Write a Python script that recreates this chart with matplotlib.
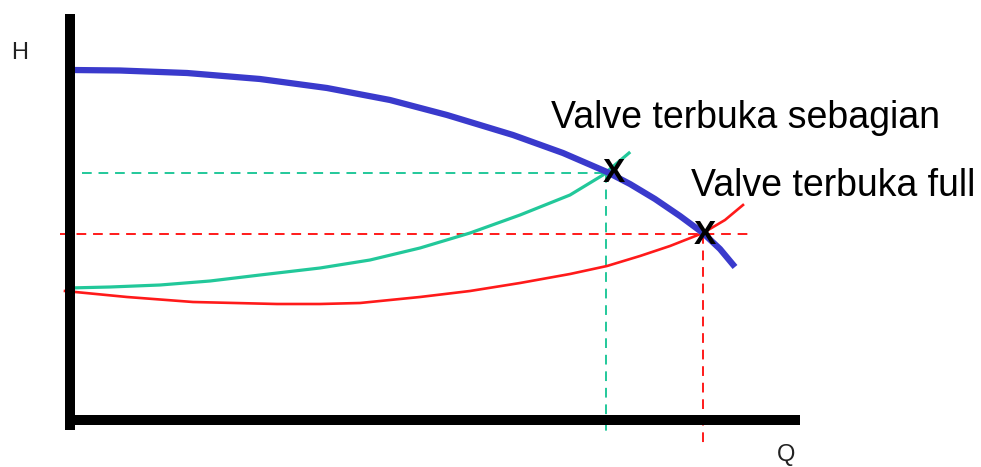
import matplotlib
matplotlib.use("Agg")
import matplotlib.pyplot as plt
import numpy as np

# Coordinates: Q, H in units of 100 px from the axis corner (schematic)
def q(px): return (np.asarray(px, float) - 70) / 100
def h(py): return (420 - np.asarray(py, float)) / 100

blue_px = [72, 120, 187, 260, 327, 390, 447, 513, 563, 607, 630, 655, 680, 703, 720, 735]
blue_py = [70, 70.5, 73, 79, 88, 100, 115, 135, 153, 172, 184, 199, 216, 233, 249, 267]
teal_px = [68, 110, 160, 210, 260, 320, 370, 420, 470, 520, 570, 603, 629]
teal_py = [288, 287, 285, 281, 275, 268, 260, 248, 233, 215, 195, 175, 153]
red_px = [65, 127, 193, 277, 320, 360, 420, 470, 520, 570, 607, 640, 670, 703, 725, 743]
red_py = [291, 297, 302, 304, 304, 303, 297, 291, 283, 274, 266, 256, 246, 233, 220, 205]

op_partial = (612, 173)
op_full = (703, 234)

labels = ["Valve terbuka sebagian", "Valve terbuka full"]

fig = plt.figure(figsize=(9.81, 4.67), dpi=100)
ax = fig.add_axes([0, 0, 1, 1])
ax.set_xlim(q(0), q(981))
ax.set_ylim(h(467), h(0))
ax.axis("off")

# axes lines
ax.plot([q(70), q(70)], [h(14), h(430)], color="black", lw=7.2, solid_capstyle="butt", zorder=5)
ax.plot([q(65), q(800)], [h(419.5), h(419.5)], color="black", lw=7.2, solid_capstyle="butt", zorder=5)

# dashed guide lines
teal = "#22c89a"
red = "#ff1a1a"
ax.plot([q(82), q(op_partial[0])], [h(op_partial[1])]*2, color=teal, lw=1.4, dashes=(5, 3.5))
ax.plot([q(606), q(606)], [h(op_partial[1]), h(435)], color=teal, lw=1.4, dashes=(5, 3.5))
ax.plot([q(60), q(752)], [h(op_full[1])]*2, color=red, lw=1.4, dashes=(5, 3.5))
ax.plot([q(703), q(703)], [h(op_full[1]), h(443)], color=red, lw=1.4, dashes=(5, 3.5))

# curves
kw = dict(solid_joinstyle="round", zorder=3)
ax.plot(q(teal_px), h(teal_py), color=teal, lw=2.3, **kw)
ax.plot(q(red_px), h(red_py), color=red, lw=1.9, **kw)
ax.plot(q(blue_px), h(blue_py), color="#3a3acc", lw=4.5, solid_capstyle="butt",
        solid_joinstyle="round", zorder=4)

# operating points
for (px, py) in [op_partial, op_full]:
    ax.text(q(px + 2), h(py + 1), "X", fontsize=24, fontweight="bold", family="Liberation Sans",
            ha="center", va="center", zorder=6)

ax.text(q(551), h(128), labels[0], fontsize=27, family="Liberation Sans", ha="left", va="baseline")
ax.text(q(691), h(196), labels[1], fontsize=27, family="Liberation Sans", ha="left", va="baseline")

ax.text(q(20), h(53), "H", fontsize=17, family="Liberation Sans", ha="center", va="center", color="#222222")
ax.text(q(786), h(455), "Q", fontsize=17, family="Liberation Sans", ha="center", va="center", color="#222222")

fig.savefig("out.png", dpi=100)
